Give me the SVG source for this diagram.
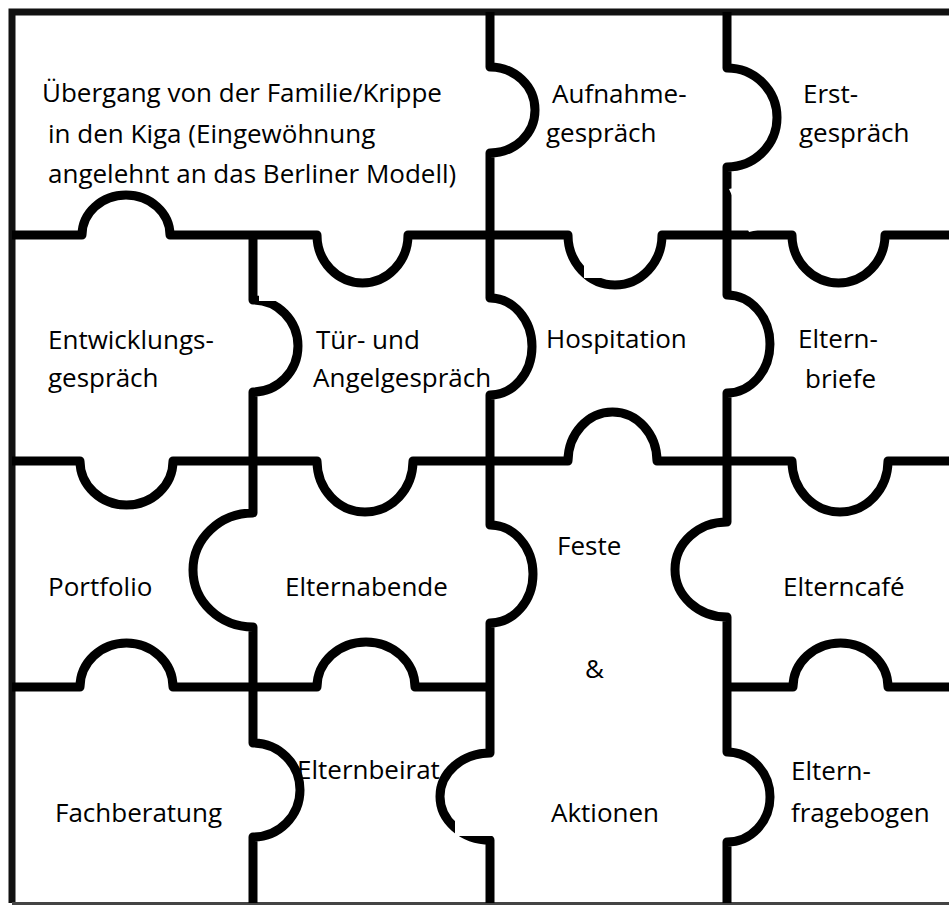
<svg xmlns="http://www.w3.org/2000/svg" width="949" height="906" viewBox="0 0 949 906">
<style>
.ln{fill:none;stroke:#000;stroke-width:9;stroke-linejoin:round}
.bd{fill:none;stroke:#111;stroke-width:7}
.t{font-family:"Open Sans","Noto Sans","DejaVu Sans",sans-serif;font-size:26px;fill:#000}
.wp{fill:#fff;stroke:none}
</style>
<rect x="0" y="0" width="949" height="906" fill="#fff"/>
<g id="connectors">
<path class="bd" d="M12 903 V12 H949"/>
<path d="M12 903.5 H949" fill="none" stroke="#444" stroke-width="3"/>
<path class="ln" d="M12 235 H82 A44 40 0 0 1 170 235 H317 A45.5 48 0 0 0 408 235 H568 A47 50 0 0 0 662 235 H792 A46.5 48 0 0 0 885 235 H949"/>
<path class="ln" d="M12 461 H80 A46.5 44 0 0 0 173 461 H317 A48 51 0 0 0 413 461 H568 A44.5 49 0 0 1 657 461 H792 A48 51 0 0 0 888 461 H949"/>
<path class="ln" d="M12 687 H80 A46.5 44 0 0 1 173 687 H317 A49 45 0 0 1 415 687 H490"/>
<path class="ln" d="M727 687 H793 A47.5 44 0 0 1 888 687 H949"/>
<path class="ln" d="M253 235 V300 A45 46 0 0 1 253 392 V513 A60 57 0 0 0 253 627 V743 A47 47 0 0 1 253 837 V903"/>
<path class="ln" d="M490 12 V67 A45 43 0 0 1 490 153 V298 A42 48.5 0 0 1 490 395 V525 A43 49 0 0 1 490 623 V753 A50 43.5 0 0 0 490 840 V903"/>
<path class="ln" d="M727 12 V68 A50 49.5 0 0 1 727 167 V295 A43 49 0 0 1 727 393 V522 A52 47.5 0 0 0 727 617 V752 A43 45 0 0 1 727 842 V903"/>
<polygon class="wp" points="729,189 765,181 774,226 749,232"/>
<rect class="wp" x="259" y="262" width="50" height="39"/>
<rect class="wp" x="455" y="787" width="60" height="49"/>
<rect class="wp" x="584" y="255" width="31" height="23"/>
</g>
<g id="node-uebergang">
<text class="t" x="42" y="102">Übergang von der Familie/Krippe</text>
<text class="t" x="48" y="143">in den Kiga (Eingewöhnung</text>
<text class="t" x="48" y="183">angelehnt an das Berliner Modell)</text>
</g>
<g id="node-aufnahme">
<text class="t" x="552" y="103">Aufnahme-</text>
<text class="t" x="546" y="142">gespräch</text>
</g>
<g id="node-erst">
<text class="t" x="803" y="103">Erst-</text>
<text class="t" x="799" y="142">gespräch</text>
</g>
<g id="node-entwicklung">
<text class="t" x="48" y="349">Entwicklungs-</text>
<text class="t" x="48" y="387">gespräch</text>
</g>
<g id="node-tuer">
<text class="t" x="316" y="349">Tür- und</text>
<text class="t" x="313" y="387">Angelgespräch</text>
</g>
<g id="node-hospitation">
<text class="t" x="546" y="348">Hospitation</text>
</g>
<g id="node-elternbriefe">
<text class="t" x="798" y="348">Eltern-</text>
<text class="t" x="805" y="388">briefe</text>
</g>
<g id="node-portfolio">
<text class="t" x="48" y="596">Portfolio</text>
</g>
<g id="node-elternabende">
<text class="t" x="285" y="596">Elternabende</text>
</g>
<g id="node-feste">
<text class="t" x="557" y="555">Feste</text>
<text class="t" x="585" y="678">&amp;</text>
<text class="t" x="551" y="822">Aktionen</text>
</g>
<g id="node-elterncafe">
<text class="t" x="783" y="596">Elterncafé</text>
</g>
<g id="node-fachberatung">
<text class="t" x="55" y="822">Fachberatung</text>
</g>
<g id="node-elternbeirat">
<text class="t" x="297" y="779">Elternbeirat</text>
</g>
<g id="node-elternfragebogen">
<text class="t" x="791" y="780">Eltern-</text>
<text class="t" x="791" y="822">fragebogen</text>
</g>
</svg>
